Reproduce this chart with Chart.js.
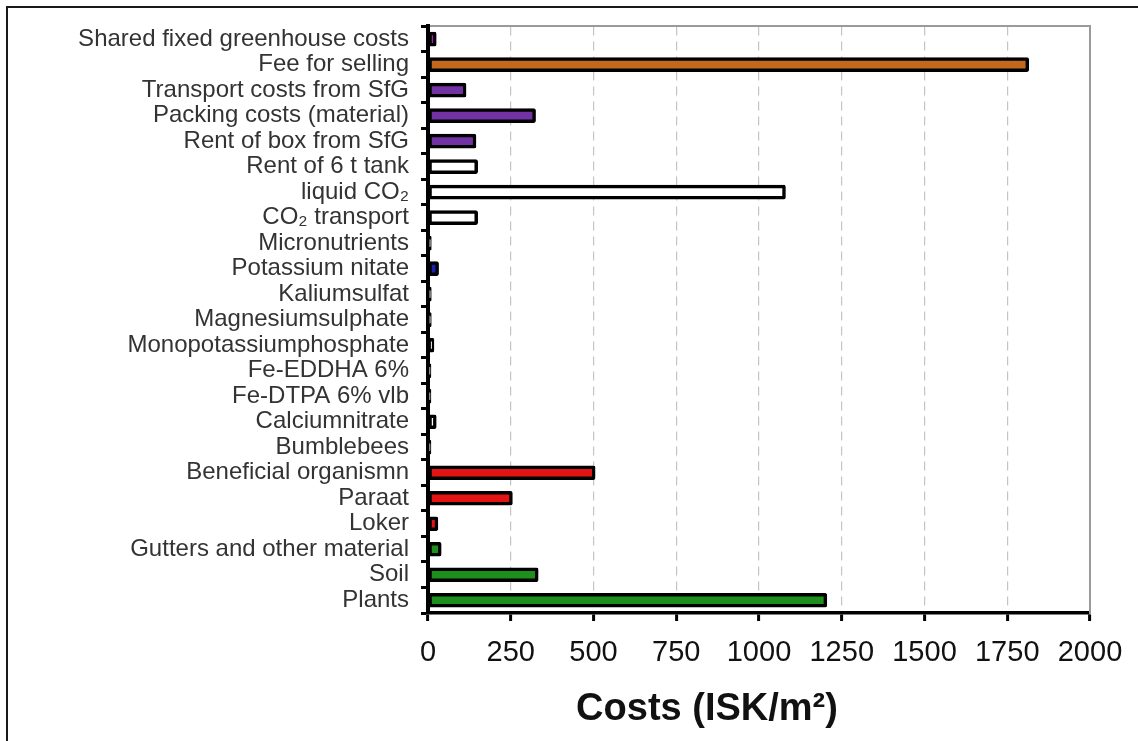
<!DOCTYPE html>
<html>
<head>
<meta charset="utf-8">
<script src="https://cdn.jsdelivr.net/npm/chart.js@4/dist/chart.umd.min.js"></script>
<style>
  html, body { margin: 0; padding: 0; background: #fff; overflow: hidden; }
  #wrap { position: relative; width: 1138px; height: 741px; }
  #frame {
    position: absolute; left: 6px; top: 6px; width: 1200px; height: 800px;
    border: 2px solid #1a1a1a; pointer-events: none;
  }
  canvas { position: absolute; left: 0; top: 0; }
</style>
</head>
<body>
<div id="wrap">
  <canvas id="chartCanvas" width="1138" height="741"></canvas>
  <div id="frame"></div>
</div>
<script>
// categories, top to bottom
const categories = [
  "Shared fixed greenhouse costs",
  "Fee for selling",
  "Transport costs from SfG",
  "Packing costs (material)",
  "Rent of box from SfG",
  "Rent of 6 t tank",
  "liquid CO\u2082",
  "CO\u2082 transport",
  "Micronutrients",
  "Potassium nitate",
  "Kaliumsulfat",
  "Magnesiumsulphate",
  "Monopotassiumphosphate",
  "Fe-EDDHA 6%",
  "Fe-DTPA 6% vlb",
  "Calciumnitrate",
  "Bumblebees",
  "Beneficial organismn",
  "Paraat",
  "Loker",
  "Gutters and other material",
  "Soil",
  "Plants",
];

// ISK/m2
const costs = [25, 1815, 115, 325, 145, 150, 1080, 150, 10, 32, 10, 10, 18, 9, 9, 25, 9, 505, 255, 30, 40, 333, 1205];

const xTicks = [0, 250, 500, 750, 1000, 1250, 1500, 1750, 2000];

const axisTitle = "Costs (ISK/m\u00b2)";

// fill colour per bar
const barColors = [
  "#b01fb8", "#c2691f", "#7332a3", "#7332a3", "#7332a3",
  "#ffffff", "#ffffff", "#ffffff", "#ffffff", "#1a22b4",
  "#ffffff", "#ffffff", "#ffffff", "#ffffff", "#ffffff",
  "#ffffff", "#ffffff", "#e31414", "#e31414", "#e31414",
  "#1d8f1d", "#1d8f1d", "#1d8f1d",
];

const fontFamily = "'Liberation Sans', Arial, sans-serif";

// x-axis title sits a bit left of the plot centre in the original
const bottomTitle = {
  id: "bottomTitle",
  afterDraw(chart) {
    const { ctx, chartArea } = chart;
    ctx.save();
    ctx.font = "bold 38px " + fontFamily;
    ctx.fillStyle = "#111";
    ctx.textAlign = "center";
    ctx.textBaseline = "middle";
    ctx.fillText(axisTitle, (chartArea.left + chartArea.right) / 2 - 52, chartArea.bottom + 97);
    ctx.restore();
  },
};

const ctx = document.getElementById("chartCanvas").getContext("2d");

new Chart(ctx, {
  type: "bar",
  data: {
    labels: categories,
    datasets: [
      {
        data: costs,
        backgroundColor: barColors,
        borderColor: "#000",
        borderWidth: 3.5,
        borderSkipped: false,
        borderRadius: 2,
        barThickness: 14,
      },
    ],
  },
  plugins: [bottomTitle],
  options: {
    indexAxis: "y",
    responsive: false,
    animation: false,
    layout: { padding: { left: 8, right: 0, top: 24, bottom: 61 } },
    plugins: {
      legend: { display: false },
      tooltip: { enabled: false },
    },
    scales: {
      x: {
        type: "linear",
        position: "bottom",
        min: 0,
        max: 2000,
        afterBuildTicks: (scale) => {
          scale.ticks = xTicks.map((v) => ({ value: v }));
        },
        afterFit: (scale) => {
          scale.height = 67;
        },
        ticks: {
          color: "#111",
          padding: 15,
          font: { family: fontFamily, size: 29 },
          callback: (v) => String(v),
        },
        grid: {
          color: "#c4c4c4",
          lineWidth: 1.2,
          tickColor: "#000",
          tickWidth: 3,
          tickLength: 8,
        },
        border: { display: true, color: "#000", width: 3.5, dash: [9, 6] },
      },
      x2: {
        type: "linear",
        position: "top",
        min: 0,
        max: 2000,
        ticks: { display: false },
        grid: { drawOnChartArea: false, drawTicks: false },
        border: { display: true, color: "#9a9a9a", width: 2 },
        afterFit: (scale) => {
          scale.height = 0;
        },
      },
      y: {
        type: "category",
        position: "left",
        afterFit: (scale) => {
          scale.width = 420;
        },
        ticks: {
          color: "#333",
          padding: 12,
          autoSkip: false,
          font: { family: fontFamily, size: 24 },
        },
        grid: {
          offset: true,
          drawOnChartArea: false,
          tickColor: "#000",
          tickWidth: 3,
          tickLength: 7,
        },
        border: { display: true, color: "#000", width: 4 },
      },
      y2: {
        type: "category",
        position: "right",
        ticks: { display: false },
        grid: { drawOnChartArea: false, drawTicks: false },
        border: { display: true, color: "#9a9a9a", width: 2 },
        afterFit: (scale) => {
          scale.width = 48;
        },
      },
    },
  },
});
</script>
</body>
</html>
